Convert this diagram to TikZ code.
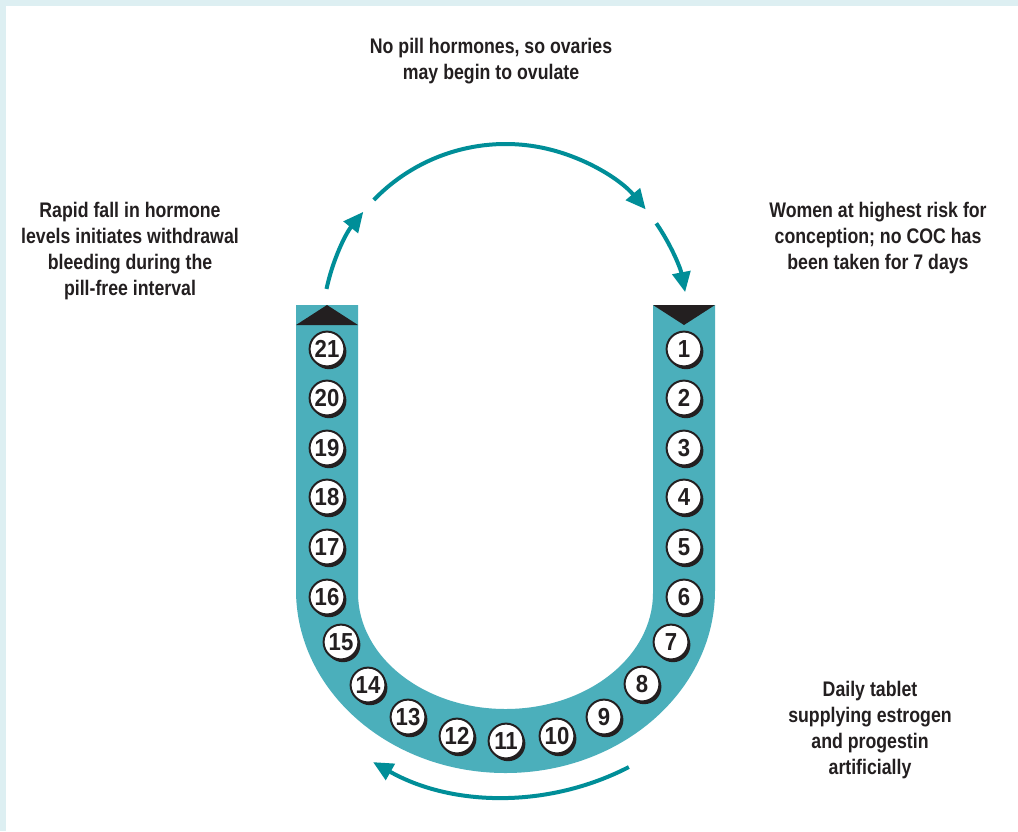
\documentclass[tikz,border=0pt]{standalone}
\usepackage{fontspec}
\setmainfont{Liberation Sans}[FakeStretch=0.84]
\newfontfamily\pillfont{Liberation Sans}[FakeStretch=0.9]
\usetikzlibrary{arrows.meta, shadows}
\definecolor{tube}{HTML}{4BAFBB}
\definecolor{arrowteal}{HTML}{008E98}
\definecolor{ink}{HTML}{231F20}
\definecolor{frame}{HTML}{DDEFF2}

\begin{document}
\begin{tikzpicture}[x=0.025cm, y=0.025cm,
		every node/.style={font=\fontsize{15}{18.4}\selectfont\bfseries, text=ink, inner sep=0pt},
		pill/.style={circle, draw=ink, line width=1.4pt, fill=white, minimum size=0.87cm,
			font=\pillfont\fontsize{17.5}{17.5}\selectfont\bfseries,
			drop shadow={shadow xshift=0.05cm, shadow yshift=-0.07cm, fill=ink, opacity=1}},
		turnarrow/.style={draw=arrowteal, line width=0.1cm, -{Triangle[length=0.5cm, width=0.45cm]}}]
		\fill[frame] (0,0) rectangle (1018,-831);
		\fill[white] (6,-6) rectangle (1018,-831);
		\useasboundingbox (0,0) rectangle (1018,-831);
		% pill strip
		\fill[tube] (296,-305) -- (296,-590) arc[start angle=180, end angle=360, x radius=209.5, y radius=183]
			-- (715,-305) -- (653,-305) -- (653,-593) arc[start angle=0, end angle=-180, x radius=147.5, y radius=116]
			-- (358,-305) -- cycle;
		\fill[ink] (296,-325) -- (358,-325) -- (327,-305) -- cycle;
		\fill[ink] (653,-305) -- (715,-305) -- (684,-325) -- cycle;
		\foreach \n/\px/\py in {1/684/349, 2/684/398, 3/684/448, 4/684/497, 5/684/547, 6/684/597,
				7/671/642, 8/642/684, 9/604/717, 10/557/736, 11/506/741, 12/457/736, 13/408/717,
				14/368/685, 15/341/642, 16/327/597, 17/327/547, 18/327/497, 19/327/448, 20/327/398, 21/327/349}
			\node[pill] (p\n) at (\px,-\py) {\n};
		% cycle arrows
		\coordinate (top) at (505.5,-327);
		\coordinate (low) at (505.5,-528);
		\draw[turnarrow] ([shift={(168:183)}]top) arc[start angle=168, end angle=141, radius=183];
		\draw[turnarrow] ([shift={(136:183)}]top) arc[start angle=136, end angle=40, radius=183];
		\draw[turnarrow] ([shift={(34.5:183)}]top) arc[start angle=34.5, end angle=11, radius=183];
		\draw[turnarrow] ([shift={(-62.7:269)}]low) arc[start angle=-62.7, end angle=-119.5, radius=269];
		% labels
		\node[align=center] (ovulate) at (491,-61) {No pill hormones, so ovaries\\may begin to ovulate};
		\node[align=center] (bleeding) at (130,-251) {Rapid fall in hormone\\levels initiates withdrawal\\bleeding during the\\pill-free interval};
		\node[align=center] (risk) at (878,-238) {Women at highest risk for\\conception; no COC has\\been taken for 7 days};
		\node[align=center] (daily) at (870,-730) {Daily tablet\\supplying estrogen\\and progestin\\artificially};
	\end{tikzpicture}
\end{document}
